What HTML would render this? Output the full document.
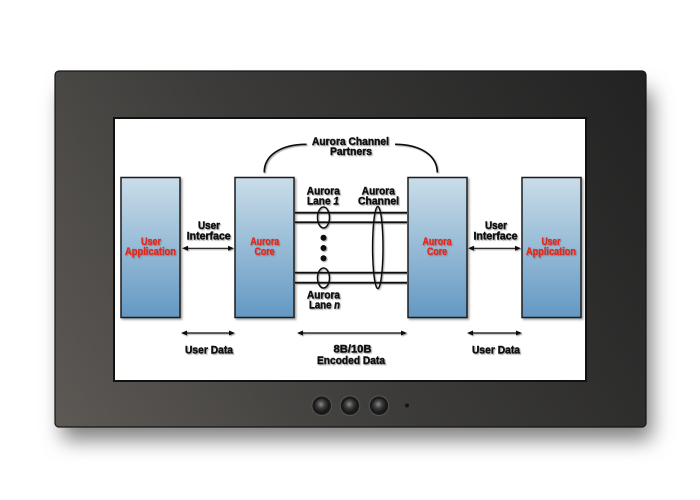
<!DOCTYPE html>
<html><head><meta charset="utf-8"><style>
html,body{margin:0;padding:0;background:#fff;}
svg{display:block;}
text{font-family:"Liberation Sans",Arial,sans-serif;font-weight:bold;font-size:11px;fill:#111;stroke:#111;stroke-width:0.45px;}
text.r{fill:#e5261b;stroke:#e5261b;stroke-width:0.35px;}
</style></head><body>
<svg width="700" height="500" viewBox="0 0 700 500" xmlns="http://www.w3.org/2000/svg">
<defs>
<filter id="sh" x="-20%" y="-20%" width="140%" height="150%"><feGaussianBlur stdDeviation="10"/></filter>
<filter id="ts" x="-10%" y="-30%" width="130%" height="170%"><feDropShadow dx="1" dy="1" stdDeviation="0.6" flood-color="#666" flood-opacity="0.6"/></filter>
<filter id="bs" x="-10%" y="-10%" width="130%" height="130%"><feDropShadow dx="1.5" dy="1.5" stdDeviation="1" flood-color="#555" flood-opacity="0.6"/></filter>
<linearGradient id="bez" gradientUnits="userSpaceOnUse" x1="55" y1="427" x2="646" y2="71">
<stop offset="0" stop-color="#5d5955"/><stop offset="0.45" stop-color="#3c3b39"/><stop offset="1" stop-color="#222222"/>
</linearGradient>
<linearGradient id="box" x1="0" y1="0" x2="0" y2="1">
<stop offset="0" stop-color="#c9dde9"/><stop offset="1" stop-color="#6398c3"/>
</linearGradient>
<radialGradient id="btn" cx="0.45" cy="0.4" r="0.6">
<stop offset="0" stop-color="#8a8a88"/><stop offset="0.5" stop-color="#3a3a3a"/><stop offset="1" stop-color="#151515"/>
</radialGradient>
</defs>

<!-- shadow -->
<rect x="62" y="90" width="590" height="350" rx="6" fill="#808080" filter="url(#sh)"/>
<!-- monitor -->
<rect x="55" y="71" width="591" height="356" rx="4" fill="url(#bez)" stroke="#161616" stroke-width="1.2"/>
<!-- screen -->
<rect x="113" y="117" width="474" height="265" fill="#111"/>
<rect x="115" y="119" width="470" height="261" fill="#fff"/>

<!-- buttons -->
<g>
<circle cx="321.7" cy="405.7" r="10.3" fill="#555"/><circle cx="321.7" cy="405.7" r="9.3" fill="#1a1a1a"/><circle cx="321.7" cy="405.7" r="7" fill="url(#btn)"/>
<circle cx="350" cy="405.7" r="10.3" fill="#555"/><circle cx="350" cy="405.7" r="9.3" fill="#1a1a1a"/><circle cx="350" cy="405.7" r="7" fill="url(#btn)"/>
<circle cx="379" cy="405.7" r="10.3" fill="#555"/><circle cx="379" cy="405.7" r="9.3" fill="#1a1a1a"/><circle cx="379" cy="405.7" r="7" fill="url(#btn)"/>
<circle cx="407" cy="405.5" r="2" fill="#151515"/>
</g>

<!-- boxes -->
<g filter="url(#bs)" stroke="#1c1c1c" stroke-width="1.5" fill="url(#box)">
<rect x="121" y="177.5" width="59" height="140"/>
<rect x="235" y="177.5" width="59" height="140"/>
<rect x="408" y="177.5" width="59" height="140"/>
<rect x="522" y="177.5" width="59" height="140"/>
</g>

<g filter="url(#ts)">
<!-- curves -->
<path d="M264.3,172.5 C264,156 280,144.3 306.5,144.3" fill="none" stroke="#111" stroke-width="1.7"/>
<path d="M395,144.3 C421,144.3 437.3,156 437.3,172.5" fill="none" stroke="#111" stroke-width="1.7"/>

<!-- lane lines -->
<g stroke="#111" stroke-width="1.8">
<line x1="295" y1="212.7" x2="407" y2="212.7"/>
<line x1="295" y1="222.3" x2="407" y2="222.3"/>
<line x1="295" y1="272.7" x2="407" y2="272.7"/>
<line x1="295" y1="282.7" x2="407" y2="282.7"/>
</g>
<g fill="none" stroke="#111" stroke-width="1.5">
<ellipse cx="323.5" cy="217.5" rx="6" ry="10.5"/>
<ellipse cx="323.5" cy="278" rx="6" ry="10"/>
<ellipse cx="377.8" cy="247.5" rx="5.2" ry="41"/>
</g>
<circle cx="323.5" cy="237.7" r="3" fill="#111"/>
<circle cx="323.5" cy="248" r="3" fill="#111"/>
<circle cx="323.5" cy="258.2" r="3" fill="#111"/>

<!-- arrows -->
<g stroke="#111" stroke-width="1.2">
<line x1="184" y1="248.3" x2="232" y2="248.3"/>
<line x1="470" y1="248.3" x2="519" y2="248.3"/>
<line x1="183" y1="333" x2="233" y2="333"/>
<line x1="299" y1="333" x2="405" y2="333"/>
<line x1="469" y1="333" x2="520" y2="333"/>
</g>
<g fill="#111">
<polygon points="182,248.3 188,245.8 188,250.8"/><polygon points="234,248.3 228,245.8 228,250.8"/>
<polygon points="468,248.3 474,245.8 474,250.8"/><polygon points="521,248.3 515,245.8 515,250.8"/>
<polygon points="181,333 187,330.5 187,335.5"/><polygon points="235,333 229,330.5 229,335.5"/>
<polygon points="297,333 303,330.5 303,335.5"/><polygon points="407,333 401,330.5 401,335.5"/>
<polygon points="467,333 473,330.5 473,335.5"/><polygon points="522,333 516,330.5 516,335.5"/>
</g>

<!-- labels -->
<text x="350.5" y="145" text-anchor="middle" textLength="77" lengthAdjust="spacingAndGlyphs">Aurora Channel</text>
<text x="351" y="155" text-anchor="middle" textLength="42" lengthAdjust="spacingAndGlyphs">Partners</text>

<text x="209" y="229" text-anchor="middle" textLength="22" lengthAdjust="spacingAndGlyphs">User</text>
<text x="208.7" y="239.3" text-anchor="middle" textLength="44" lengthAdjust="spacingAndGlyphs">Interface</text>
<text x="496" y="229" text-anchor="middle" textLength="22" lengthAdjust="spacingAndGlyphs">User</text>
<text x="495.5" y="239.3" text-anchor="middle" textLength="44" lengthAdjust="spacingAndGlyphs">Interface</text>

<text class="r" x="151" y="245" text-anchor="middle" textLength="20" lengthAdjust="spacingAndGlyphs">User</text>
<text class="r" x="150.5" y="255" text-anchor="middle" textLength="51" lengthAdjust="spacingAndGlyphs">Application</text>
<text class="r" x="264.7" y="245" text-anchor="middle" textLength="29" lengthAdjust="spacingAndGlyphs">Aurora</text>
<text class="r" x="264.5" y="255" text-anchor="middle" textLength="20" lengthAdjust="spacingAndGlyphs">Core</text>
<text class="r" x="437" y="245" text-anchor="middle" textLength="29" lengthAdjust="spacingAndGlyphs">Aurora</text>
<text class="r" x="437" y="255" text-anchor="middle" textLength="20" lengthAdjust="spacingAndGlyphs">Core</text>
<text class="r" x="551" y="245" text-anchor="middle" textLength="19" lengthAdjust="spacingAndGlyphs">User</text>
<text class="r" x="551" y="255" text-anchor="middle" textLength="50" lengthAdjust="spacingAndGlyphs">Application</text>

<text x="323.3" y="194.5" text-anchor="middle" textLength="33" lengthAdjust="spacingAndGlyphs">Aurora</text>
<text x="323" y="204.5" text-anchor="middle" textLength="32" lengthAdjust="spacingAndGlyphs">Lane <tspan font-style="italic">1</tspan></text>
<text x="378.3" y="194.5" text-anchor="middle" textLength="33" lengthAdjust="spacingAndGlyphs">Aurora</text>
<text x="378.5" y="204.5" text-anchor="middle" textLength="41" lengthAdjust="spacingAndGlyphs">Channel</text>
<text x="323.5" y="298.5" text-anchor="middle" textLength="33" lengthAdjust="spacingAndGlyphs">Aurora</text>
<text x="324.5" y="308.5" text-anchor="middle" textLength="31" lengthAdjust="spacingAndGlyphs">Lane <tspan font-style="italic">n</tspan></text>

<text x="209" y="353.3" text-anchor="middle" textLength="48" lengthAdjust="spacingAndGlyphs">User Data</text>
<text x="352.5" y="352.7" text-anchor="middle" textLength="38" lengthAdjust="spacingAndGlyphs">8B/10B</text>
<text x="351" y="364" text-anchor="middle" textLength="68" lengthAdjust="spacingAndGlyphs">Encoded Data</text>
<text x="496" y="353.3" text-anchor="middle" textLength="48" lengthAdjust="spacingAndGlyphs">User Data</text>
</g>
</svg>
</body></html>
